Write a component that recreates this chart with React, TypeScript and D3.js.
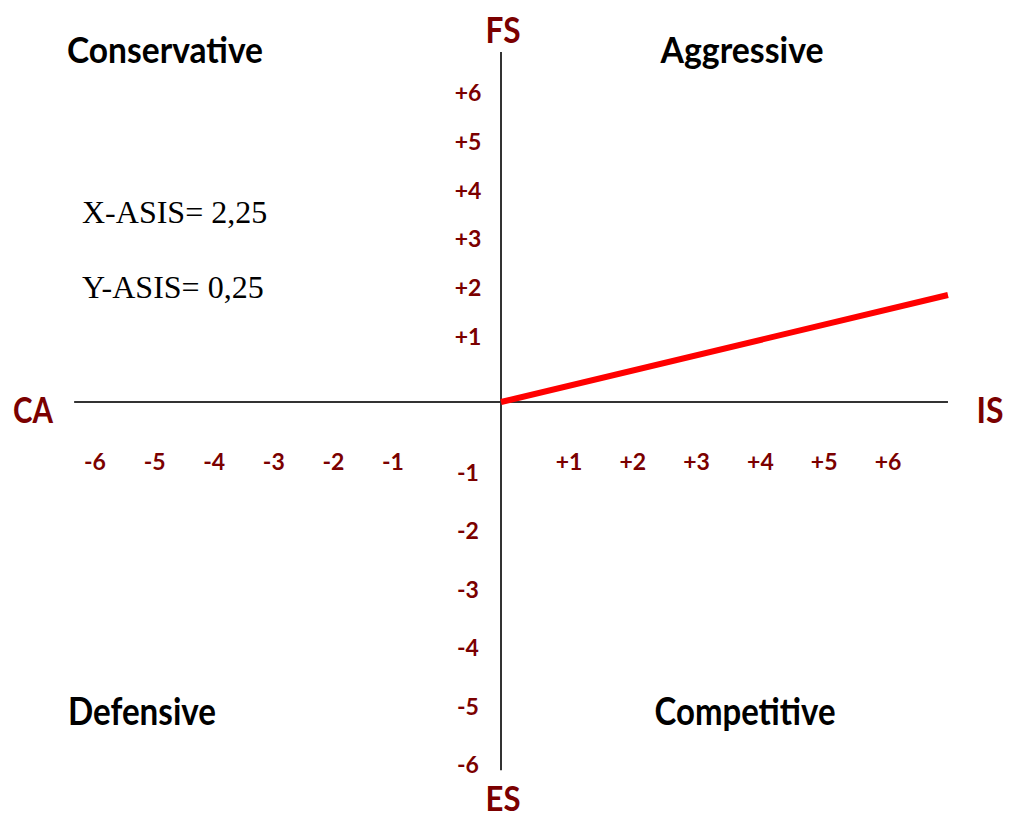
import React from "react";
import * as d3 from "d3";

// ---- data ----
const xTickValues = [-6, -5, -4, -3, -2, -1, 1, 2, 3, 4, 5, 6];
const yTickValues = [6, 5, 4, 3, 2, 1, -1, -2, -3, -4, -5, -6];
const xAxisExtent = [-6.35, 6.94];
const yAxisExtent = [-6.09, 6.84];
const vectorPoints: [number, number][] = [
  [0, 0],
  [6.94, 1.86],
];
const quadrantLabels = ["Conservative", "Aggressive", "Defensive", "Competitive"];
const axisLabels = ["FS", "ES", "CA", "IS"];
const resultLines = ["X-ASIS= 2,25", "Y-ASIS= 0,25"];

const W = 1011;
const H = 819;
const MAROON = "#7b0000";
const SANS = "Lato, 'Open Sans', 'DejaVu Sans', sans-serif";

function fmt(v: number) {
  return v > 0 ? `+${v}` : `${v}`;
}

export default function App() {
  // piecewise linear scales (the hand-drawn chart has a wider gap around the origin)
  const x = d3.scaleLinear().domain([-6, -1, 0, 1, 6]).range([95, 393, 501, 569, 888]);
  const y = d3.scaleLinear().domain([-6, -1, 0, 1, 6]).range([765, 473, 402, 337, 93]);

  const line = d3
    .line<[number, number]>()
    .x((d) => x(d[0]))
    .y((d) => y(d[1]));

  const x0 = x(0);
  const y0 = y(0);

  const quadPos = [
    { cx: 165, by: 63, len: 196, fs: 36 },
    { cx: 742, by: 63, len: 163, fs: 36 },
    { cx: 142, by: 725, len: 148, fs: 38 },
    { cx: 745, by: 725, len: 181, fs: 38 },
  ];
  const axisPos = [
    { cx: 503, by: 43, len: 35, fs: 36 },
    { cx: 503, by: 811, len: 35, fs: 34 },
    { cx: 33, by: 423, len: 40, fs: 36 },
    { cx: 990, by: 423, len: 27, fs: 36 },
  ];

  return (
    <svg
      width={W}
      height={H}
      style={{ position: "absolute", left: 0, top: 0, background: "#fff" }}
    >
      {/* axes */}
      <line
        x1={x(xAxisExtent[0])}
        x2={x(xAxisExtent[1])}
        y1={y0}
        y2={y0}
        stroke="#333"
        strokeWidth={2}
      />
      <line
        x1={x0}
        x2={x0}
        y1={y(yAxisExtent[1])}
        y2={y(yAxisExtent[0])}
        stroke="#333"
        strokeWidth={2}
      />

      {/* x tick labels */}
      {xTickValues.map((v) => (
        <text
          key={"x" + v}
          x={x(v)}
          y={470}
          textAnchor="middle"
          fontFamily={SANS}
          fontWeight={700}
          fontSize={23}
          fill={MAROON}
        >
          {fmt(v)}
        </text>
      ))}

      {/* y tick labels */}
      {yTickValues.map((v) => (
        <text
          key={"y" + v}
          x={468}
          y={y(v) + 8}
          textAnchor="middle"
          fontFamily={SANS}
          fontWeight={700}
          fontSize={23}
          fill={MAROON}
        >
          {fmt(v)}
        </text>
      ))}

      {/* result vector */}
      <path d={line(vectorPoints) || ""} stroke="#ff0000" strokeWidth={6} fill="none" />

      {/* quadrant labels */}
      {quadrantLabels.map((t, i) => (
        <text
          key={t}
          x={quadPos[i].cx}
          y={quadPos[i].by}
          textAnchor="middle"
          fontFamily={SANS}
          fontWeight={700}
          fontSize={quadPos[i].fs}
          fill="#000"
          textLength={quadPos[i].len}
          lengthAdjust="spacingAndGlyphs"
        >
          {t}
        </text>
      ))}

      {/* axis labels */}
      {axisLabels.map((t, i) => (
        <text
          key={t}
          x={axisPos[i].cx}
          y={axisPos[i].by}
          textAnchor="middle"
          fontFamily={SANS}
          fontWeight={700}
          fontSize={axisPos[i].fs}
          fill={MAROON}
          textLength={axisPos[i].len}
          lengthAdjust="spacingAndGlyphs"
        >
          {t}
        </text>
      ))}

      {/* result text */}
      {resultLines.map((t, i) => (
        <text
          key={t}
          x={82}
          y={223 + i * 75}
          fontFamily="'Liberation Serif', 'Times New Roman', serif"
          fontSize={32}
          fill="#000"
        >
          {t}
        </text>
      ))}
    </svg>
  );
}
